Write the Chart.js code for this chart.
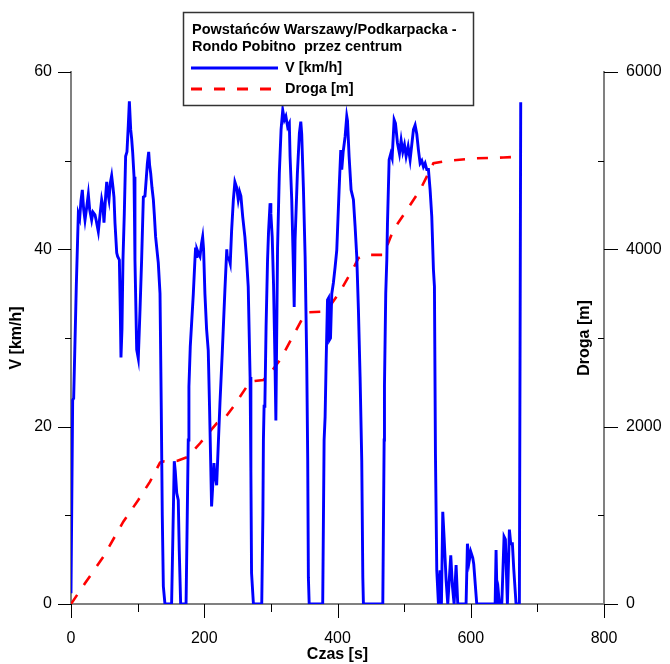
<!DOCTYPE html>
<html>
<head>
<meta charset="utf-8">
<script src="https://cdn.jsdelivr.net/npm/chart.js@4/dist/chart.umd.min.js"></script>
<style>
  html, body { margin: 0; padding: 0; background: #fff; }
  #wrap { width: 670px; height: 664px; }
</style>
</head>
<body>
<div id="wrap"><canvas id="mainChart" width="670" height="664"></canvas></div>
<script>
// speed trace: time [s] and V [km/h]
var speedTime = [0, 2.5, 4, 8, 11, 13, 15, 17, 19, 21, 24, 26, 28, 31, 33, 36, 38, 41, 43, 46, 48, 49.5, 52, 53.6, 55, 57, 59, 61, 63, 64.5,
  66, 68.6, 70, 72.6, 74, 75, 76.5, 78, 80, 82, 84, 86, 87.6, 89.6, 91, 92.6, 94.6, 96, 98.6, 101, 103.6, 106, 108.6, 111, 113, 114.6,
  116.6, 118, 119.6, 121.5, 123.6, 125, 127, 130, 131, 133.6, 135.5, 137, 138.6, 141, 151, 153, 155, 156.5, 158.7, 161, 162.5, 164.6,
  172.7, 174.5, 176, 177, 179, 183.6, 186, 187, 188, 189, 191, 193.6, 196, 197.6, 199, 201, 203.5, 206, 208, 209.6, 211, 212.5, 214.6,
  215.6, 217, 218.6, 220, 223.6, 227, 231, 233.8, 234.5, 237.6, 239, 241, 243.7, 246, 248.6, 251, 253, 255, 257.7, 261, 263.6, 266,
  268.8, 270, 271, 273.8, 286.3, 288, 288.8, 289.8, 291, 292.8, 295, 296.5, 298.8, 300, 302, 304, 306, 307.5, 310, 312.7, 315.3, 317.8,
  320.3, 322.5, 325.2, 327.7, 328.8, 331.3, 333.8, 335, 336.3, 339.8, 342.8, 344.9, 346.3, 348.8, 351.4, 353.8, 355.3, 356.3, 357.5,
  377.8, 379.9, 381.4, 383, 385, 386.5, 388, 389.5, 391.4, 393.8, 396.4, 398.9, 402.4, 404.9, 406.4, 408.5, 411.4, 413.9, 415, 417.4,
  420.4, 423.9, 426.4, 428.9, 431.4, 433.9, 436.4, 438, 438.9, 468, 470, 470.5, 472.4, 474, 475, 477.5, 480, 482, 485, 487, 490, 493,
  495.5, 498, 500.5, 503, 506, 509, 511.5, 514, 516.5, 519, 521.5, 524, 526.5, 529, 531.5, 534, 536.5, 539, 541.5, 544, 545.5, 547,
  549, 551.5, 554, 556, 558, 560, 563, 565.5, 570, 572.5, 575, 578, 580.5, 593, 595, 597.6, 600, 603, 604.5, 609, 636.6, 638, 639.6,
  641.6, 643, 646.6, 650, 652, 655, 658, 660, 662.5, 664.5, 668, 673, 675];
var speedValue = [1.2, 23, 23.2, 36, 44, 43.5, 45.5, 46.7, 44.5, 43.3, 45, 46.2, 44.5, 43.3, 44.2, 43.9, 43.2, 42, 43.5, 45.6, 44.8, 43, 46, 47.6, 46.5, 45.6, 47.5, 48.3, 47, 45.9,
  43, 39.6, 39.2, 38.8, 33, 27.8, 31, 38.8, 44, 50.5, 51, 54, 56.7, 53.5, 52.5, 50.9, 48.2, 38.8, 28.7, 27.7, 33.2, 38.8, 45.9, 46, 48, 49.7,
  51, 49.5, 48.6, 47, 45.6, 44, 41.4, 39.2, 38.5, 35, 22, 10, 2, 0, 0, 8, 16.1, 15, 12.5, 11.7, 6, 0,
  0, 10, 18.5, 24.5, 29, 35, 38.8, 40.2, 39.2, 40, 39.6, 39.2, 40.7, 41.4, 40, 35, 31, 28.6, 22, 16.2, 11, 13, 15.9,
  14.8, 14.2, 13.4, 16, 22.7, 28.3, 35.4, 40, 39.2, 38.8, 38.4, 42, 45.6, 47.6, 47, 45.6, 46.5, 46, 43.7, 41.4, 38.8, 35.8,
  25.6, 15, 3.5, 0, 0, 10, 18.5, 22.3, 22.5, 31.3, 38.8, 42, 45.2, 44, 41.4, 36, 28, 20.7, 40, 48.6, 53.5, 55.7,
  54.6, 55, 53.8, 54.2, 50.5, 45.6, 38, 33.5, 41, 48.6, 53.1, 54.4, 53, 47, 39.2, 27.5, 16.2, 3, 0,
  0, 18.5, 21.1, 27.5, 34.3, 34.5, 29.8, 30, 35, 36.2, 38, 39.9, 46.7, 51.2, 49, 51, 52.7, 55, 54.5, 50.5,
  46.7, 45.6, 42.6, 39.2, 33.2, 25.6, 16.2, 3, 0, 0, 18.5, 24.7, 35, 38.8, 42.9, 50.1, 50.8, 50.3, 54.6, 54.2, 52, 50.8,
  52.3, 51, 51.8, 50.5, 51.6, 50.1, 51.8, 53.5, 54, 53, 51.2, 49.7, 50, 49.3, 49.7, 49, 49, 46.7, 43.7, 37.7, 35.8, 17,
  3.8, 0, 3.8, 0, 10.4, 7.5, 2.7, 0, 5.5, 2, 0, 4.4, 0, 0, 6.8, 4.8, 5.9, 5.2, 4.5, 0, 0, 6.1, 0,
  1.2, 0, 0, 7.6, 7.3, 0, 8.4, 6.8, 6.8, 4, 0, 0, 56.6];

// cumulative distance: time [s] and Droga [m]
var distTime = [0, 21, 48.5, 78.5, 101, 118.6, 133.6, 140, 160, 176, 193.7, 218.7, 228.7, 243.7, 268.8, 288.8, 298.8, 313.8, 331.4,
  348.8, 355, 377, 386.3, 403.9, 426.4, 431.4, 440, 469, 484, 504, 524, 544, 564, 609, 649, 675];
var distValue = [0, 233, 533, 928, 1173, 1380, 1594, 1610, 1615, 1662, 1813, 2038, 2075, 2225, 2508, 2527, 2602, 2752, 2997,
  3241, 3290, 3297, 3336, 3523, 3824, 3900, 3937, 3937, 4219, 4444, 4670, 4971, 4997, 5027, 5035, 5046];

var legendTitle = ['Powsta\u0144c\u00f3w Warszawy/Podkarpacka -', 'Rondo Pobitno  przez centrum'];
var speedLabel = 'V [km/h]';
var distLabel = 'Droga [m]';
var timeLabel = 'Czas [s]';

(function () {
  var FONT = '"Liberation Sans", Arial, sans-serif';

  function toPoints(xs, ys) {
    return xs.map(function (x, i) { return { x: x, y: ys[i] }; });
  }

  // tick marks: long on labelled values, short in between
  function drawTicks(ctx, chart) {
    var a = chart.chartArea;
    var sx = chart.scales.x, sy = chart.scales.y, sd = chart.scales.y2;
    ctx.save();
    ctx.strokeStyle = '#000';
    ctx.lineWidth = 1;
    ctx.beginPath();
    for (var t = 0; t <= 800; t += 100) {
      var px = Math.round(sx.getPixelForValue(t)) + 0.5;
      ctx.moveTo(px, a.bottom);
      ctx.lineTo(px, a.bottom + (t % 200 === 0 ? 14 : 8));
    }
    for (var v = 0; v <= 60; v += 10) {
      var py = Math.round(sy.getPixelForValue(v)) + 0.5;
      ctx.moveTo(a.left, py);
      ctx.lineTo(a.left - (v % 20 === 0 ? 13 : 6), py);
    }
    for (var d = 0; d <= 6000; d += 1000) {
      var pd = Math.round(sd.getPixelForValue(d)) + 0.5;
      if (d % 2000 === 0) {
        ctx.moveTo(a.right, pd);
        ctx.lineTo(a.right + 14, pd);
      } else {
        ctx.moveTo(a.right, pd);
        ctx.lineTo(a.right - 6, pd);
      }
    }
    ctx.stroke();
    ctx.restore();
  }

  function drawTitles(ctx, chart) {
    var a = chart.chartArea;
    var midY = (a.top + a.bottom) / 2;
    ctx.save();
    ctx.fillStyle = '#000';
    ctx.font = 'bold 16px ' + FONT;
    ctx.textAlign = 'center';
    ctx.textBaseline = 'middle';
    ctx.fillText(timeLabel, (a.left + a.right) / 2, 655);

    ctx.save();
    ctx.translate(17, midY);
    ctx.rotate(-Math.PI / 2);
    ctx.fillText(speedLabel, 0, 0);
    ctx.restore();

    ctx.save();
    ctx.translate(a.right - 19, midY);
    ctx.rotate(-Math.PI / 2);
    ctx.fillText(distLabel, 0, 0);
    ctx.restore();
    ctx.restore();
  }

  function drawLegendBox(ctx, chart) {
    var bx = 183, by = 12, bw = 290, bh = 93;
    ctx.save();
    ctx.fillStyle = '#fff';
    ctx.fillRect(bx, by, bw, bh);
    ctx.strokeStyle = '#333';
    ctx.lineWidth = 1.5;
    ctx.strokeRect(bx + 0.5, by + 0.5, bw, bh);

    ctx.fillStyle = '#000';
    ctx.font = 'bold 14.5px ' + FONT;
    ctx.textAlign = 'left';
    ctx.textBaseline = 'middle';
    ctx.fillText(legendTitle[0], 192, 30);
    ctx.fillText(legendTitle[1], 192, 47);
    ctx.fillText(speedLabel, 285, 68);
    ctx.fillText(distLabel, 285, 89);

    var ds = chart.data.datasets;
    ctx.lineWidth = 2.8;
    ctx.strokeStyle = ds[0].borderColor;
    ctx.beginPath();
    ctx.moveTo(191, 68);
    ctx.lineTo(278, 68);
    ctx.stroke();

    ctx.strokeStyle = ds[1].borderColor;
    ctx.setLineDash(ds[1].borderDash);
    ctx.beginPath();
    ctx.moveTo(191, 89);
    ctx.lineTo(278, 89);
    ctx.stroke();
    ctx.restore();
  }

  var decorations = {
    id: 'decorations',
    afterDraw: function (chart) {
      var ctx = chart.ctx;
      drawTicks(ctx, chart);
      drawTitles(ctx, chart);
      drawLegendBox(ctx, chart);
    }
  };

  var tickFont = { family: FONT, size: 16 };

  new Chart(document.getElementById('mainChart').getContext('2d'), {
    type: 'line',
    data: {
      datasets: [{
        label: speedLabel,
        data: toPoints(speedTime, speedValue),
        yAxisID: 'y',
        borderColor: '#0000ff',
        borderWidth: 2.9,
        pointRadius: 0,
        tension: 0
      }, {
        label: distLabel,
        data: toPoints(distTime, distValue),
        yAxisID: 'y2',
        borderColor: '#ff0000',
        borderWidth: 2.6,
        borderDash: [11, 12],
        pointRadius: 0,
        tension: 0
      }]
    },
    options: {
      responsive: false,
      animation: false,
      layout: { padding: { top: 72, left: 0, right: 0, bottom: 0 } },
      plugins: { legend: { display: false }, tooltip: { enabled: false } },
      scales: {
        x: {
          type: 'linear', min: 0, max: 800,
          grid: { display: false, drawTicks: false },
          border: { display: true, color: '#808080', width: 2 },
          ticks: {
            stepSize: 100, padding: 25, color: '#000', font: tickFont, maxRotation: 0,
            callback: function (v) { return v % 200 === 0 ? String(v) : ''; }
          },
          afterFit: function (s) { s.height = 60; }
        },
        y: {
          position: 'left', min: 0, max: 60,
          grid: { display: false, drawTicks: false },
          border: { display: true, color: '#808080', width: 2 },
          ticks: {
            stepSize: 10, padding: 19, color: '#000', font: tickFont,
            callback: function (v) { return v % 20 === 0 ? String(v) : ''; }
          },
          afterFit: function (s) { s.width = 71; }
        },
        y2: {
          position: 'right', min: 0, max: 6000,
          grid: { display: false, drawTicks: false },
          border: { display: true, color: '#808080', width: 2 },
          ticks: {
            stepSize: 1000, padding: 22, color: '#000', font: tickFont,
            callback: function (v) { return v % 2000 === 0 ? String(v) : ''; }
          },
          afterFit: function (s) { s.width = 66; }
        }
      }
    },
    plugins: [decorations]
  });
})();
</script>
</body>
</html>
